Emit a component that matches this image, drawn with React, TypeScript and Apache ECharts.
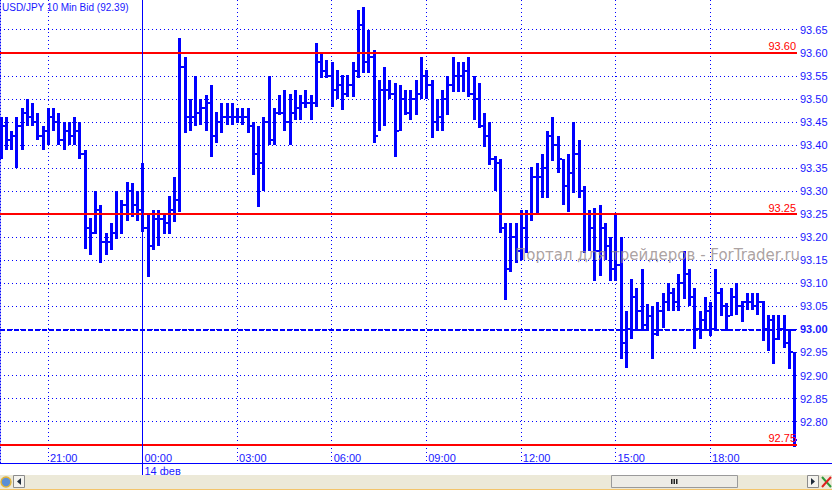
import React, { useEffect, useRef } from 'react';
import * as echarts from 'echarts';

// ---- data (10-minute USD/JPY bars, bar index 0 = 19:30, index 27 = 00:00 14 фев) ----
const opens = [
  93.42, 93.44, 93.41, 93.42, 93.44, 93.47, 93.46, 93.45, 93.42, 93.43, 93.46, 93.45, 93.41, 93.43, 93.42, 93.43,
  93.38, 93.22, 93.21, 93.26, 93.19, 93.19, 93.21, 93.25, 93.27, 93.30, 93.27, 93.26, 93.22, 93.18, 93.24, 93.24, 93.23, 93.26,
  93.28, 93.57, 93.46, 93.46, 93.47, 93.48, 93.49, 93.42, 93.45, 93.46, 93.46, 93.46, 93.46, 93.46, 93.44, 93.38, 93.36, 93.45,
  93.41, 93.47, 93.47, 93.45, 93.47, 93.48, 93.49, 93.49, 93.49, 93.58, 93.56, 93.55, 93.52, 93.53, 93.51, 93.53, 93.56, 93.66, 93.58,
  93.59, 93.42, 93.52, 93.52, 93.51, 93.43, 93.50, 93.47, 93.50, 93.51, 93.55, 93.53, 93.45, 93.46, 93.50, 93.53, 93.55, 93.55, 93.56, 93.51, 93.50, 93.44, 93.42,
  93.37, 93.36, 93.22, 93.13, 93.20, 93.17, 93.22, 93.25, 93.33, 93.33, 93.35, 93.42, 93.40, 93.37, 93.31, 93.34, 93.38, 93.30, 93.25, 93.22, 93.17, 93.22, 93.18, 93.13,
  93.14, 92.97, 93.00, 93.07, 93.04, 93.01, 93.03, 92.99, 93.04, 93.06, 93.08, 93.06, 93.10, 93.12, 93.07, 93.00, 93.02, 93.04, 93.00, 93.08, 93.05, 93.03, 93.07, 93.05, 93.06, 93.06, 93.05, 93.06, 93.00, 93.02, 92.98, 93.00, 92.97, 92.95,
];
const highs = [
  93.46, 93.46, 93.43, 93.46, 93.48, 93.50, 93.49, 93.47, 93.44, 93.48, 93.48, 93.47, 93.45, 93.45, 93.46, 93.45,
  93.39, 93.242, 93.30, 93.27, 93.21, 93.23, 93.30, 93.28, 93.32, 93.317, 93.30, 93.36, 93.25, 93.258, 93.258, 93.25, 93.29, 93.33,
  93.632, 93.59, 93.50, 93.55, 93.50, 93.508, 93.53, 93.471, 93.49, 93.49, 93.49, 93.48, 93.48, 93.48, 93.45, 93.44, 93.46, 93.55,
  93.48, 93.508, 93.52, 93.51, 93.52, 93.508, 93.52, 93.508, 93.621, 93.60, 93.584, 93.58, 93.562, 93.552, 93.552, 93.58, 93.693, 93.70, 93.65,
  93.606, 93.541, 93.57, 93.54, 93.534, 93.53, 93.52, 93.52, 93.54, 93.59, 93.562, 93.54, 93.50, 93.52, 93.55, 93.59, 93.58, 93.58, 93.59, 93.55, 93.534, 93.47, 93.45,
  93.375, 93.37, 93.23, 93.23, 93.23, 93.26, 93.26, 93.353, 93.36, 93.38, 93.43, 93.46, 93.42, 93.37, 93.38, 93.45, 93.41, 93.31, 93.26, 93.263, 93.27, 93.23, 93.20, 93.25,
  93.20, 93.04, 93.11, 93.09, 93.13, 93.055, 93.05, 93.06, 93.08, 93.10, 93.09, 93.12, 93.17, 93.13, 93.09, 93.04, 93.07, 93.06, 93.13, 93.09, 93.058, 93.09, 93.10, 93.061, 93.079, 93.079, 93.079, 93.061, 93.032, 93.032, 93.032, 93.032, 93.00, 92.95,
];
const lows = [
  93.37, 93.39, 93.39, 93.35, 93.39, 93.44, 93.44, 93.41, 93.39, 93.40, 93.43, 93.40, 93.39, 93.40, 93.40, 93.37,
  93.174, 93.161, 93.206, 93.144, 93.161, 93.172, 93.196, 93.206, 93.234, 93.244, 93.234, 93.211, 93.114, 93.172, 93.18, 93.206, 93.206, 93.233,
  93.255, 93.425, 93.43, 93.44, 93.443, 93.43, 93.374, 93.404, 93.425, 93.443, 93.443, 93.448, 93.443, 93.425, 93.335, 93.265, 93.30, 93.40,
  93.40, 93.465, 93.43, 93.40, 93.455, 93.455, 93.48, 93.455, 93.482, 93.545, 93.545, 93.482, 93.50, 93.476, 93.504, 93.504, 93.545, 93.556, 93.556,
  93.404, 93.43, 93.44, 93.50, 93.374, 93.43, 93.465, 93.455, 93.465, 93.50, 93.50, 93.415, 93.43, 93.43, 93.465, 93.515, 93.515, 93.515, 93.504, 93.455, 93.436, 93.395, 93.357,
  93.30, 93.21, 93.063, 93.125, 93.144, 93.15, 93.165, 93.234, 93.25, 93.285, 93.285, 93.365, 93.34, 93.27, 93.255, 93.295, 93.285, 93.165, 93.17, 93.105, 93.115, 93.15, 93.105, 93.105,
  92.935, 92.917, 92.98, 92.997, 92.997, 92.997, 92.935, 92.985, 93.004, 93.04, 93.04, 93.04, 93.065, 93.05, 92.957, 92.98, 92.997, 92.985, 92.997, 93.03, 92.997, 93.03, 93.032, 93.015, 93.043, 93.043, 93.032, 92.975, 92.953, 92.924, 92.978, 92.96, 92.914, 92.745,
];
const closes = [
  93.44, 93.41, 93.42, 93.44, 93.47, 93.46, 93.45, 93.42, 93.43, 93.46, 93.45, 93.41, 93.43, 93.42, 93.43, 93.38,
  93.22, 93.21, 93.26, 93.19, 93.19, 93.21, 93.25, 93.27, 93.30, 93.27, 93.26, 93.22, 93.18, 93.24, 93.24, 93.23, 93.26, 93.28,
  93.57, 93.46, 93.46, 93.47, 93.48, 93.49, 93.42, 93.45, 93.46, 93.46, 93.46, 93.46, 93.46, 93.44, 93.38, 93.36, 93.45, 93.41,
  93.47, 93.47, 93.45, 93.47, 93.48, 93.49, 93.49, 93.49, 93.58, 93.56, 93.55, 93.52, 93.53, 93.51, 93.53, 93.56, 93.66, 93.58, 93.59,
  93.42, 93.52, 93.52, 93.51, 93.43, 93.50, 93.47, 93.50, 93.51, 93.55, 93.53, 93.45, 93.46, 93.50, 93.53, 93.55, 93.55, 93.56, 93.51, 93.50, 93.44, 93.42, 93.37,
  93.36, 93.22, 93.13, 93.20, 93.17, 93.22, 93.25, 93.33, 93.33, 93.35, 93.42, 93.40, 93.37, 93.31, 93.34, 93.38, 93.30, 93.25, 93.22, 93.17, 93.22, 93.18, 93.13, 93.14,
  92.97, 93.00, 93.07, 93.04, 93.01, 93.03, 92.99, 93.04, 93.06, 93.08, 93.06, 93.10, 93.12, 93.07, 93.00, 93.02, 93.04, 93.00, 93.08, 93.05, 93.03, 93.07, 93.05, 93.06, 93.06, 93.05, 93.06, 93.00, 93.02, 92.98, 93.00, 92.97, 92.95, 92.76,
];

const xTickIndex = [9, 27, 45, 63, 81, 99, 117, 135];
const xTickLabels = ['21:00', '00:00', '03:00', '06:00', '09:00', '12:00', '15:00', '18:00'];
const yTickValues = [92.8, 92.85, 92.9, 92.95, 93.0, 93.05, 93.1, 93.15, 93.2, 93.25, 93.3, 93.35, 93.4, 93.45, 93.5, 93.55, 93.6, 93.65];
const levelLines = [93.6, 93.25, 92.75];
const roundLevel = 93.0;
const dayBreakIndex = 27;
const dayLabel = '14 фев';
const titleText = 'USD/JPY 10 Min Bid (92.39)';
const watermarkText = 'Портал для трейдеров - ForTrader.ru';

const BLUE = '#0000ff';
const LABEL_BLUE = '#1818ff';
const RED = '#ff0000';
const FONT = 'Liberation Sans, Arial, sans-serif';

export default function App() {
  const ref = useRef<HTMLDivElement>(null);

  useEffect(() => {
    if (!ref.current) return;
    const chart = echarts.init(ref.current, undefined, { renderer: 'svg' });
    const data = highs.map((h, i) => [i, opens[i], h, lows[i], closes[i]]);

    chart.setOption({
      animation: false,
      backgroundColor: '#ffffff',
      grid: { left: 0, right: 35, top: 0, bottom: 27, containLabel: false },
      xAxis: {
        type: 'value',
        min: -0.114,
        max: 151.55,
        axisLine: { show: false },
        axisTick: { show: false, customValues: xTickIndex },
        axisLabel: {
          customValues: xTickIndex,
          inside: true,
          margin: 0,
          align: 'left',
          verticalAlign: 'bottom',
          padding: [0, 0, 0, 2],
          color: LABEL_BLUE,
          fontFamily: FONT,
          fontSize: 11,
          formatter: (v: number) => {
            const i = xTickIndex.indexOf(Math.round(v));
            return i >= 0 ? xTickLabels[i] : '';
          },
        },
        splitLine: { show: true, lineStyle: { color: BLUE, width: 1, type: [1, 3] } },
      },
      yAxis: {
        type: 'value',
        position: 'right',
        min: 92.7103,
        max: 93.7143,
        axisLine: { show: true, lineStyle: { color: BLUE, width: 1, type: [1, 2] } },
        axisTick: { show: false, customValues: yTickValues },
        axisLabel: {
          customValues: yTickValues,
          margin: 3,
          color: LABEL_BLUE,
          fontFamily: FONT,
          fontSize: 11,
          formatter: (v: number) => (Math.abs(v - roundLevel) < 1e-6 ? '{b|' + v.toFixed(2) + '}' : v.toFixed(2)),
          rich: { b: { fontWeight: 'bold', color: LABEL_BLUE, fontFamily: FONT, fontSize: 11 } },
        },
        splitLine: { show: true, lineStyle: { color: BLUE, width: 1, type: [1, 3] } },
      },
      series: [
        {
          type: 'custom',
          clip: true,
          data,
          renderItem: (params: any, api: any) => {
            const i = api.value(0);
            const pH = api.coord([i, api.value(2)]);
            const pL = api.coord([i, api.value(3)]);
            const pO = api.coord([i, api.value(1)]);
            const pC = api.coord([i, api.value(4)]);
            const x = Math.round(pH[0]);
            const yTop = Math.round(pH[1]);
            const yBot = Math.round(pL[1]);
            return {
              type: 'group',
              children: [
                { type: 'rect', shape: { x: x - 1, y: yTop, width: 3, height: Math.max(2, yBot - yTop) }, style: { fill: BLUE } },
                { type: 'rect', shape: { x: x - 3, y: Math.round(pO[1]) - 1, width: 2, height: 2 }, style: { fill: BLUE } },
                { type: 'rect', shape: { x: x + 2, y: Math.round(pC[1]) - 1, width: 2, height: 2 }, style: { fill: BLUE } },
              ],
            };
          },
          markLine: {
            silent: true,
            symbol: 'none',
            animation: false,
            data: [
              ...levelLines.map((v) => ({
                yAxis: v,
                lineStyle: { color: RED, width: 2, type: 'solid' },
                label: {
                  show: true,
                  position: 'insideEndTop',
                  distance: [1, 1],
                  color: RED,
                  fontFamily: FONT,
                  fontSize: 11,
                  formatter: () => v.toFixed(2),
                },
              })),
              {
                yAxis: roundLevel,
                lineStyle: { color: BLUE, width: 2, type: [5, 2] },
                label: { show: false },
              },
              {
                xAxis: dayBreakIndex,
                lineStyle: { color: BLUE, width: 1, type: 'solid' },
                label: { show: false },
              },
            ],
          },
        },
      ],
    });

    const dayX = Math.round(chart.convertToPixel({ xAxisIndex: 0 }, dayBreakIndex) as number) + 0.5;

    chart.setOption({
      graphic: [
        {
          type: 'text', left: 2, top: 2, z: 100,
          style: { text: titleText, fill: LABEL_BLUE, font: '10px ' + FONT },
        },
        {
          type: 'text', x: 515, y: 247, z: 100,
          style: { text: watermarkText, fill: 'rgba(150,138,138,0.8)', font: '15px DejaVu Sans, sans-serif' },
        },
        { type: 'rect', z: 90, shape: { x: 0, y: 464, width: 832, height: 26 }, style: { fill: '#ffffff' } },
        { type: 'line', z: 100, shape: { x1: 0, y1: 463.5, x2: 832, y2: 463.5 }, style: { stroke: BLUE, lineWidth: 1 } },
        { type: 'line', z: 100, shape: { x1: dayX, y1: 463, x2: dayX, y2: 475 }, style: { stroke: BLUE, lineWidth: 1 } },
        {
          type: 'text', x: dayX + 2, y: 465, z: 100,
          style: { text: dayLabel, fill: LABEL_BLUE, font: '11px ' + FONT },
        },
        { type: 'rect', z: 100, shape: { x: 0, y: 475, width: 832, height: 15 }, style: { fill: '#ece9d8' } },
        { type: 'line', z: 101, shape: { x1: 0, y1: 489.5, x2: 832, y2: 489.5 }, style: { stroke: '#f3c46a', lineWidth: 1 } },
        { type: 'circle', z: 101, shape: { cx: 6, cy: 482, r: 5 }, style: { fill: '#5b8fd6', stroke: '#e2b43a', lineWidth: 1.5 } },
        { type: 'rect', z: 101, shape: { x: 13.5, y: 475.5, width: 11, height: 12 }, style: { fill: '#f4f3ee', stroke: '#8c8c8c', lineWidth: 1 } },
        { type: 'polygon', z: 102, shape: { points: [[17, 481.5], [21, 478], [21, 485]] }, style: { fill: '#1e2a3a' } },
        { type: 'rect', z: 101, shape: { x: 611.5, y: 475.5, width: 126, height: 12 }, style: { fill: '#edece6', stroke: '#9a9a9a', lineWidth: 1 } },
        { type: 'rect', z: 102, shape: { x: 671, y: 479, width: 1.5, height: 5 }, style: { fill: '#222222' } },
        { type: 'rect', z: 102, shape: { x: 673.5, y: 479, width: 1.5, height: 5 }, style: { fill: '#222222' } },
        { type: 'rect', z: 102, shape: { x: 676, y: 479, width: 1.5, height: 5 }, style: { fill: '#222222' } },
        { type: 'rect', z: 101, shape: { x: 807.5, y: 475.5, width: 11, height: 12 }, style: { fill: '#f4f3ee', stroke: '#8c8c8c', lineWidth: 1 } },
        { type: 'polygon', z: 102, shape: { points: [[815, 481.5], [811, 478], [811, 485]] }, style: { fill: '#1e2a3a' } },
        { type: 'line', z: 102, shape: { x1: 822, y1: 477, x2: 831, y2: 487 }, style: { stroke: '#2e9a3a', lineWidth: 2 } },
        { type: 'line', z: 103, shape: { x1: 822, y1: 487, x2: 831, y2: 477 }, style: { stroke: '#e02020', lineWidth: 2 } },
      ],
    });

    return () => chart.dispose();
  }, []);

  return <div ref={ref} style={{ position: 'fixed', left: 0, top: 0, width: 832, height: 490 }} />;
}
